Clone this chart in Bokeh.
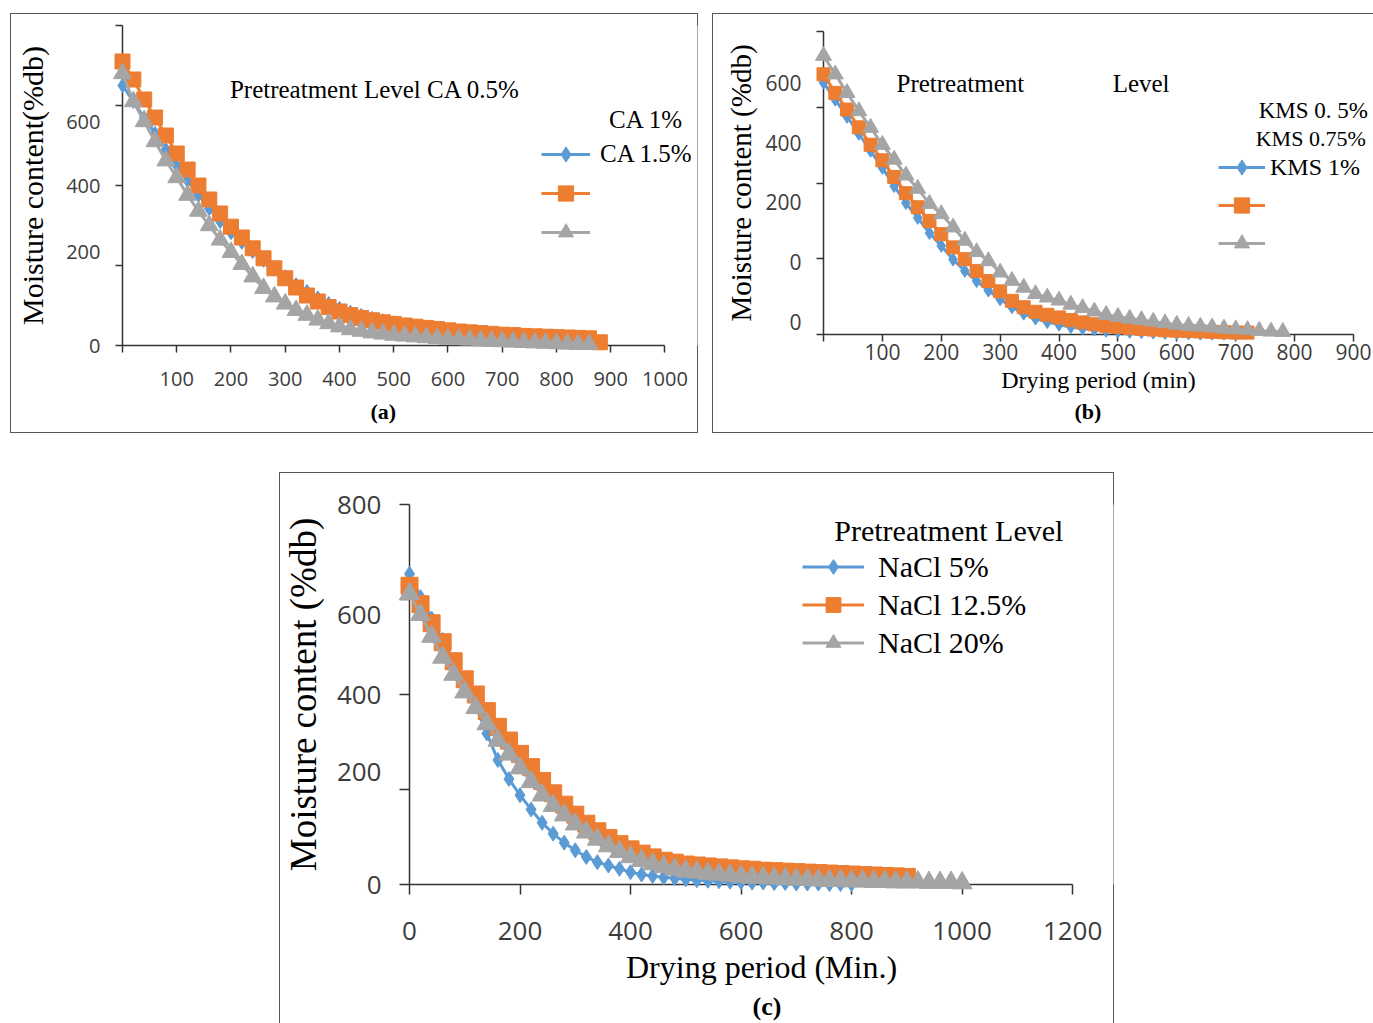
from bokeh.plotting import figure
from bokeh.models import Range1d, FixedTicker, Legend, LegendItem, Label, Spacer
from bokeh.layouts import column, row
from bokeh.core.properties import value
from bokeh.embed import file_html
from bokeh.resources import INLINE

BLUE, ORANGE, GRAY = "#5B9BD5", "#ED7D31", "#A5A5A5"
SERIF, SANS = "Liberation Serif", "Open Sans"
AXC = "#333333"
TICKC = "#3c3c3c"

# ---------------- data: panel (a) CA ----------------
a_t_orange = [0, 20, 40, 60, 80, 100, 120, 140, 160, 180, 200, 220, 240, 260, 280, 300, 320, 340, 360, 380,
              400, 420, 440, 460, 480, 500, 520, 540, 560, 580, 600, 620, 640, 660, 680, 700, 720, 740, 760, 780,
              800, 820, 840, 860, 880]
a_ca_1 = [710, 665, 615, 570, 525, 480, 440, 400, 365, 330, 297, 270, 243, 218, 193, 168, 145, 125, 110, 96,
          85, 76, 69, 63, 58, 54, 50, 47, 44, 41, 38, 35, 33, 31, 29, 27, 26, 24, 23, 22, 21, 20, 19, 18, 8]
a_t_other = [0, 20, 40, 60, 80, 100, 120, 140, 160, 180, 200, 220, 240, 260, 280, 300, 320, 340, 360, 380,
             400, 420, 440, 460, 480, 500, 520, 540, 560, 580, 600, 620, 640, 660, 680, 700, 720, 740, 760, 780,
             800, 820, 840, 860]
a_ca_05 = [650, 610, 570, 530, 490, 450, 412, 376, 342, 310, 282, 258, 235, 213, 192, 172, 152, 135, 119, 105,
           93, 83, 75, 68, 62, 57, 52, 48, 44, 40, 37, 34, 31, 29, 27, 25, 23, 21, 19, 18, 16, 15, 13, 12]
a_ca_15 = [680, 610, 560, 510, 462, 420, 376, 336, 300, 264, 233, 203, 172, 143, 122, 104, 88, 76, 64, 55,
           47, 40, 36, 32, 29, 26, 24, 22, 20, 18, 16, 15, 14, 12, 11, 10, 9, 8, 7, 6, 5, 4, 3, 3]
a_xticks = [100, 200, 300, 400, 500, 600, 700, 800, 900, 1000]
a_yticks = [0, 200, 400, 600, 800]
a_ylabel_text = ["0", "200", "400", "600"]
a_ylabel_at = [0, 235, 400, 560]

# ---------------- data: panel (b) KMS ----------------
b_t_blue = [0, 20, 40, 60, 80, 100, 120, 140, 160, 180, 200, 220, 240, 260, 280, 300, 320, 340, 360, 380,
            400, 420, 440, 460, 480, 500, 520, 540, 560, 580, 600, 620, 640, 660, 680, 700]
b_kms_05 = [665, 620, 575, 530, 485, 440, 392, 347, 308, 268, 234, 198, 168, 141, 116, 93, 72, 55, 42, 33,
            26, 20, 16, 13, 10, 8, 7, 6, 5, 4, 3, 3, 2, 2, 2, 1]
b_t_orange = [0, 20, 40, 60, 80, 100, 120, 140, 160, 180, 200, 220, 240, 260, 280, 300, 320, 340, 360, 380,
              400, 420, 440, 460, 480, 500, 520, 540, 560, 580, 600, 620, 640, 660, 680, 700, 720]
b_kms_075 = [687, 638, 594, 547, 501, 460, 416, 373, 336, 300, 265, 230, 199, 168, 141, 114, 89, 72, 60, 52,
             45, 38, 32, 27, 23, 20, 17, 15, 13, 11, 10, 9, 8, 7, 6, 5, 5]
b_t_gray = [0, 20, 40, 60, 80, 100, 120, 140, 160, 180, 200, 220, 240, 260, 280, 300, 320, 340, 360, 380,
            400, 420, 440, 460, 480, 500, 520, 540, 560, 580, 600, 620, 640, 660, 680, 700, 720, 740, 760, 780]
b_kms_1 = [736, 687, 638, 590, 546, 501, 462, 420, 385, 345, 318, 283, 248, 218, 194, 164, 142, 124, 107, 98,
           90, 79, 70, 61, 52, 47, 42, 38, 34, 30, 26, 23, 21, 19, 16, 14, 12, 10, 8, 7]
b_xticks = [100, 200, 300, 400, 500, 600, 700, 800, 900]
b_yticks = [0, 200, 400, 600, 800]
b_ylabel_text = ["0", "0", "200", "400", "600"]
b_ylabel_at = [34, 191, 350, 506, 665]

# ---------------- data: panel (c) NaCl ----------------
c_t_blue = [0, 20, 40, 60, 80, 100, 120, 140, 160, 180, 200, 220, 240, 260, 280, 300, 320, 340, 360, 380,
            400, 420, 440, 460, 480, 500, 520, 540, 560, 580, 600, 620, 640, 660, 680, 700, 720, 740, 760, 780, 800]
c_nacl_5 = [654, 605, 560, 515, 470, 423, 375, 318, 262, 222, 188, 158, 130, 107, 88, 72, 58, 47, 40, 33,
            26, 21, 18, 15, 13, 11, 9, 8, 7, 6, 5, 4, 4, 3, 3, 2, 2, 2, 1, 1, 1]
c_t_orange = [0, 20, 40, 60, 80, 100, 120, 140, 160, 180, 200, 220, 240, 260, 280, 300, 320, 340, 360, 380,
              400, 420, 440, 460, 480, 500, 520, 540, 560, 580, 600, 620, 640, 660, 680, 700, 720, 740, 760, 780,
              800, 820, 840, 860, 880, 900]
c_nacl_125 = [629, 590, 550, 510, 470, 432, 400, 365, 332, 303, 275, 247, 218, 192, 168, 147, 128, 112, 98, 85,
              74, 65, 57, 50, 46, 42, 40, 38, 36, 34, 32, 31, 29, 28, 27, 26, 25, 24, 23, 22, 21, 20, 19, 18, 17, 16]
c_t_gray = [0, 20, 40, 60, 80, 100, 120, 140, 160, 180, 200, 220, 240, 260, 280, 300, 320, 340, 360, 380,
            400, 420, 440, 460, 480, 500, 520, 540, 560, 580, 600, 620, 640, 660, 680, 700, 720, 740, 760, 780,
            800, 820, 840, 860, 880, 900, 920, 940, 960, 980, 1000]
c_nacl_20 = [612, 568, 522, 478, 442, 405, 372, 338, 303, 274, 245, 216, 188, 166, 146, 127, 110, 95, 81, 69,
             58, 50, 43, 37, 32, 28, 26, 23, 21, 19, 17, 15, 14, 13, 12, 11, 10, 9, 8, 8,
             7, 7, 6, 6, 5, 5, 5, 4, 4, 4, 3]
c_xticks = [0, 200, 400, 600, 800, 1000, 1200]
c_yticks = [0, 200, 400, 600, 800]
c_ylabel_text = ["0", "200", "400", "600", "800"]
c_ylabel_at = [0, 236, 400, 567, 800]


def make_fig(w, h, xr, yr, left, right, top, bottom, shadow, title, title_size, title_offset, title_standoff):
    p = figure(width=w, height=h, x_range=Range1d(*xr), y_range=Range1d(*yr),
               output_backend="svg", toolbar_location=None, title=title, title_location="below",
               min_border_left=left, min_border_right=right, min_border_top=top, min_border_bottom=bottom,
               border_fill_color=None, background_fill_color="white", outline_line_color=None,
               styles={"box-shadow": shadow})
    p.xgrid.visible = False
    p.ygrid.visible = False
    p.title.align = "left"
    p.title.text_font = SERIF
    p.title.text_font_style = "bold"
    p.title.text_font_size = title_size
    p.title.text_color = "black"
    p.title.offset = title_offset
    p.title.standoff = title_standoff
    return p


def style_axes(p, xt, xb, yt, ylab_at, ylab_text, fs, tick_len, y_standoff, x_standoff,
               ylabel, ylabel_fs, ylabel_standoff, xlabel=None, xlabel_fs="24px", xlabel_standoff=5,
               xminor=None):
    for ax in (p.xaxis[0], p.yaxis[0]):
        ax.axis_line_color = AXC
        ax.axis_line_width = 1.5
        ax.major_tick_line_color = AXC
        ax.major_tick_line_width = 1.5
        ax.minor_tick_line_color = AXC
        ax.minor_tick_line_width = 1.5
        ax.major_label_text_font = SANS
        ax.major_label_text_font_size = fs
        ax.major_label_text_color = TICKC
        ax.axis_label_text_font = SERIF
        ax.axis_label_text_font_style = "normal"
        ax.axis_label_text_color = "black"
    xa = p.xaxis[0]
    xa.ticker = FixedTicker(ticks=xt, minor_ticks=xminor or [])
    xa.bounds = xb
    xa.major_tick_out = tick_len
    xa.major_tick_in = 0
    xa.minor_tick_out = tick_len
    xa.minor_tick_in = 0
    xa.major_label_standoff = x_standoff
    if xlabel:
        xa.axis_label = xlabel
        xa.axis_label_text_font_size = xlabel_fs
        xa.axis_label_standoff = xlabel_standoff
    ya = p.yaxis[0]
    ya.ticker = FixedTicker(ticks=ylab_at, minor_ticks=yt)
    ya.major_label_overrides = {k: v for k, v in zip(ylab_at, ylab_text)}
    ya.major_tick_out = 0
    ya.major_tick_in = 0
    ya.minor_tick_out = tick_len
    ya.minor_tick_in = 0
    ya.major_label_standoff = y_standoff
    ya.axis_label = ylabel
    ya.axis_label_text_font_size = ylabel_fs
    ya.axis_label_standoff = ylabel_standoff


def series(p, t, v, color, marker, size):
    l = p.line(t, v, line_color=color, line_width=3, level="annotation")
    s = p.scatter(t, v, marker=marker, size=size, fill_color=color, line_color=color, level="annotation")
    return [l, s]


def text(p, x, y, s, size, align="left", bold=False):
    p.add_layout(Label(x=x, y=y, text=s, text_font=SERIF, text_font_size=size, text_align=align,
                       text_baseline="middle", text_color="black",
                       text_font_style="bold" if bold else "normal"))


SH_ALL = "inset 1px 0 0 #555, inset -1px 0 0 #555, inset 0 1px 0 #555, inset 0 -1px 0 #555"
SH_B = "inset 1px 0 0 #555, inset 0 1px 0 #555, inset 0 -1px 0 #555"
SH_C = "inset 1px 0 0 #555, inset -1px 0 0 #555, inset 0 1px 0 #555"

# ---------------- panel (a) ----------------
pa = make_fig(688, 420, (0, 1060), (0, 800), 112, 1, 12, 88, SH_ALL, "(a)", "22px", 248, 16)
style_axes(pa, a_xticks, (0, 1000), a_yticks, a_ylabel_at, a_ylabel_text, "20px", 7, 15, 19,
           "Moisture content(%db)", "30px", 14, xminor=[0])
ra1 = series(pa, a_t_other, a_ca_05, BLUE, "diamond", 14)
ra2 = series(pa, a_t_orange, a_ca_1, ORANGE, "square", 15)
ra3 = series(pa, a_t_other, a_ca_15, GRAY, "triangle", 18)
pa.add_layout(Legend(items=[LegendItem(label=value("CA 1.5%"), renderers=ra1),
                            LegendItem(label=value(" "), renderers=ra2),
                            LegendItem(label=value(" "), renderers=ra3)],
                     location=(419, 94), glyph_width=49, glyph_height=38, spacing=1, padding=0, margin=0,
                     label_standoff=10, border_line_color=None, background_fill_alpha=0,
                     label_text_font=SERIF, label_text_font_size="25px", label_text_color="black"))
text(pa, 198, 640, "Pretreatment Level CA 0.5%", "25px")
text(pa, 897, 565, "CA 1%", "25px")

# ---------------- panel (b) ----------------
pb = make_fig(661, 420, (0, 934), (0, 800), 111, 0, 18, 99, SH_B, "(b)", "22px", 251, 2)
style_axes(pb, b_xticks, (0, 900), b_yticks, b_ylabel_at, b_ylabel_text, "21px", 7, 15, 2,
           "Moisture content (%db)", "29px", 5, xlabel="Drying period (min)", xlabel_fs="24px",
           xlabel_standoff=4, xminor=[0])
rb1 = series(pb, b_t_blue, b_kms_05, BLUE, "diamond", 13)
rb2 = series(pb, b_t_orange, b_kms_075, ORANGE, "square", 13)
rb3 = series(pb, b_t_gray, b_kms_1, GRAY, "triangle", 16)
pb.add_layout(Legend(items=[LegendItem(label=value("KMS 1%"), renderers=rb1),
                            LegendItem(label=value(" "), renderers=rb2),
                            LegendItem(label=value(" "), renderers=rb3)],
                     location=(395, 72), glyph_width=47, glyph_height=38, spacing=0, padding=0, margin=0,
                     label_standoff=5, border_line_color=None, background_fill_alpha=0,
                     label_text_font=SERIF, label_text_font_size="24px", label_text_color="black"))
text(pb, 124, 663, "Pretreatment", "25px")
text(pb, 491, 663, "Level", "25px")
text(pb, 739, 591, "KMS 0. 5%", "23px")
text(pb, 734, 517, "KMS 0.75%", "22px")

# ---------------- panel (c) ----------------
pc = make_fig(835, 551, (0, 1274), (0, 800), 128, 1, 32, 139, SH_C, "(c)", "26px", 343, 5)
style_axes(pc, c_xticks, (0, 1200), c_yticks, c_ylabel_at, c_ylabel_text, "26px", 10, 18, 27,
           "Moisture content (%db)", "37px", 10, xlabel="Drying period (Min.)", xlabel_fs="32px",
           xlabel_standoff=6)
rc1 = series(pc, c_t_blue, c_nacl_5, BLUE, "diamond", 15)
rc2 = series(pc, c_t_orange, c_nacl_125, ORANGE, "square", 17)
rc3 = series(pc, c_t_gray, c_nacl_20, GRAY, "triangle", 20)
pc.add_layout(Legend(items=[LegendItem(label=value("NaCl 5%"), renderers=rc1),
                            LegendItem(label=value("NaCl 12.5%"), renderers=rc2),
                            LegendItem(label=value("NaCl 20%"), renderers=rc3)],
                     location=(393, 223), glyph_width=62, glyph_height=37, spacing=1, padding=0, margin=0,
                     label_standoff=14, border_line_color=None,
                     background_fill_alpha=0, label_text_font=SERIF, label_text_font_size="30px",
                     label_text_color="black"))
text(pc, 976, 746, "Pretreatment Level", "30px", "center")

layout = column(Spacer(height=13),
                row(Spacer(width=10), column(pa), Spacer(width=14), column(pb)),
                Spacer(height=39),
                row(Spacer(width=279), pc))

open("out.html", "w").write(file_html(layout, INLINE))
